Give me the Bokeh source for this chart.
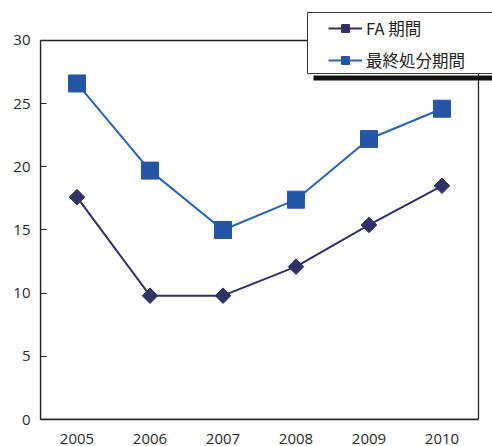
import math
from bokeh.plotting import figure
from bokeh.models import FixedTicker, Legend, LegendItem, BoxAnnotation
from bokeh.embed import file_html
from bokeh.resources import INLINE

years = [2005, 2006, 2007, 2008, 2009, 2010]
fa_period = [17.6, 9.8, 9.8, 12.1, 15.4, 18.5]
final_period = [26.6, 19.7, 15.0, 17.4, 22.2, 24.6]
y_ticks = [0, 5, 10, 15, 20, 25, 30]
labels = ["FA 期間", "最終処分期間"]

FONT = "Open Sans"
CJK = "Noto Sans CJK JP"

# frame spans canvas x 40..492, y 0..419 ; data box is 2004.5..2010.5 x 0..30
p = figure(width=492, height=446, x_range=(2004.5, 2010.692), y_range=(0, 33.166),
           output_backend="svg", toolbar_location=None,
           min_border_left=40, min_border_right=0, min_border_top=0, min_border_bottom=27)
p.background_fill_color = "white"
p.border_fill_color = "white"
p.outline_line_color = None
p.grid.visible = False

p.yaxis.ticker = FixedTicker(ticks=y_ticks)
p.xaxis.ticker = FixedTicker(ticks=years)
p.yaxis.bounds = (0, 30)
p.xaxis.bounds = (2004.5, 2010.5)
p.yaxis.major_tick_in = 6
p.yaxis.major_tick_out = 0
p.yaxis.major_tick_line_color = "#222222"
p.yaxis.minor_tick_line_color = None
p.xaxis.major_tick_line_color = None
p.xaxis.minor_tick_line_color = None
for ax in (p.xaxis, p.yaxis):
    ax.axis_line_color = "#222222"
    ax.axis_line_width = 1.3
    ax.major_label_text_font = FONT
    ax.major_label_text_font_size = "15px"
    ax.major_label_text_color = "#2a2a2a"
p.yaxis.major_label_standoff = 10
p.xaxis.major_label_standoff = 8

# plot box (top and right edges)
frame_box = BoxAnnotation(left=2004.5, right=2010.5, bottom=0, top=30,
                          fill_alpha=0, line_color="#222222", line_alpha=1,
                          line_width=1.3, level="underlay")
p.add_layout(frame_box)

l1 = p.line(years, fa_period, line_color="#30306A", line_width=2)
s1 = p.scatter(years, fa_period, marker="square", angle=math.pi / 4, size=11,
               fill_color="#2E3265", line_color="#2E3265")
l2 = p.line(years, final_period, line_color="#2A63B3", line_width=2)
s2 = p.scatter(years, final_period, marker="square", size=17,
               fill_color="#2556A6", line_color="#2556A6")

# legend box and shadow (screen units from frame bottom-left)
shadow = BoxAnnotation(left=273, right=460, top=344, bottom=339,
                       left_units="screen", right_units="screen",
                       top_units="screen", bottom_units="screen",
                       fill_color="#111111", fill_alpha=1, line_color=None)
box = BoxAnnotation(left=267, right=460, top=407, bottom=346,
                    left_units="screen", right_units="screen",
                    top_units="screen", bottom_units="screen",
                    fill_color="white", fill_alpha=1, line_color="#333333",
                    line_alpha=1, line_width=1)
p.add_layout(shadow)
p.add_layout(box)

legend = Legend(items=[LegendItem(label=labels[0], renderers=[l1, s1]),
                       LegendItem(label=labels[1], renderers=[l2, s2])],
                location=(288, 347), padding=0, margin=0, spacing=8,
                glyph_width=34, glyph_height=20, label_height=20, label_standoff=4,
                label_text_font=CJK, label_text_font_size="16.5px", label_text_color="#222222",
                background_fill_alpha=0, border_line_color=None)
p.add_layout(legend, "center")

open("out.html", "w").write(file_html(p, INLINE))
